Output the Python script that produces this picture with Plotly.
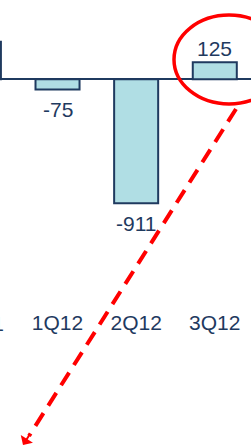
import plotly.graph_objects as go

categories = ["4Q11", "1Q12", "2Q12", "3Q12"]
values = [276, -75, -911, 125]
value_labels = ["276", "-75", "-911", "125"]

W, H = 251, 447
ZERO_PX = 79.3
PX_PER_UNIT = 0.136
AXIS_PX = 308  # pixel position of the category axis

NAVY = "#1F3A5F"
FILL = "#B0DEE4"
RED = "#FF0000"
FONT = "Liberation Sans, Arial, sans-serif"

y_top = ZERO_PX / PX_PER_UNIT
y_bot = -(AXIS_PX - ZERO_PX) / PX_PER_UNIT
x_lo = 1 - 57.5 / 78.6
x_hi = 3 + 36.2 / 78.6

fig = go.Figure()
fig.add_trace(go.Bar(
    x=list(range(len(categories))),
    y=values,
    width=0.56,
    marker=dict(color=FILL, line=dict(color=NAVY, width=2)),
    hoverinfo="skip",
))

def px_x(p):
    return p / W

def px_y(p):
    return 1 - p / H

def data_to_paper_x(v):
    return (v - x_lo) / (x_hi - x_lo)

annotations = []
for i, (v, lab) in enumerate(zip(values, value_labels)):
    annotations.append(dict(
        x=i, y=v, xref="x", yref="y", text=lab, showarrow=False,
        yanchor="middle", yshift=14 if v >= 0 else -20,
        font=dict(family=FONT, size=21, color=NAVY),
    ))

# category label of the partly hidden first bar (axis drops out-of-range ticks)
annotations.append(dict(
    x=data_to_paper_x(0), y=px_y(323), xref="paper", yref="paper",
    text=categories[0], showarrow=False, xanchor="center", yanchor="middle",
    font=dict(family=FONT, size=21, color=NAVY),
))

# arrow head at the end of the dashed pointer
tip = (23, 445)
annotations.append(dict(
    x=px_x(tip[0]), y=px_y(tip[1]), xref="paper", yref="paper",
    text="", showarrow=True, arrowhead=1, arrowsize=1.2, arrowwidth=2,
    arrowcolor=RED, ax=0.536 * 14, ay=-0.845 * 14,
))

shapes = [
    dict(type="circle", xref="paper", yref="paper",
         x0=px_x(174), x1=px_x(284), y0=px_y(104), y1=px_y(15),
         line=dict(color=RED, width=3.5)),
    dict(type="line", xref="paper", yref="paper",
         x0=px_x(236), y0=px_y(109), x1=px_x(29), y1=px_y(436),
         line=dict(color=RED, width=4, dash="15px,9px")),
]

fig.update_layout(
    width=W, height=H, autosize=False,
    margin=dict(l=0, r=0, t=0, b=0),
    paper_bgcolor="white", plot_bgcolor="white",
    showlegend=False,
    xaxis=dict(
        range=[x_lo, x_hi],
        tickmode="array", tickvals=list(range(len(categories))), ticktext=categories,
        showgrid=False, showline=False, zeroline=False, ticks="",
        tickfont=dict(family=FONT, size=21, color=NAVY),
        fixedrange=True,
    ),
    yaxis=dict(
        domain=[1 - AXIS_PX / H, 1],
        range=[y_bot, y_top],
        showgrid=False, showticklabels=False, ticks="", showline=False,
        zeroline=True, zerolinecolor=NAVY, zerolinewidth=2,
        fixedrange=True,
    ),
    annotations=annotations,
    shapes=shapes,
)

fig.write_html(
    "out.html",
    config={"displayModeBar": False, "staticPlot": True},
    post_script="document.body.style.margin='0';document.body.style.overflow='hidden';",
)
